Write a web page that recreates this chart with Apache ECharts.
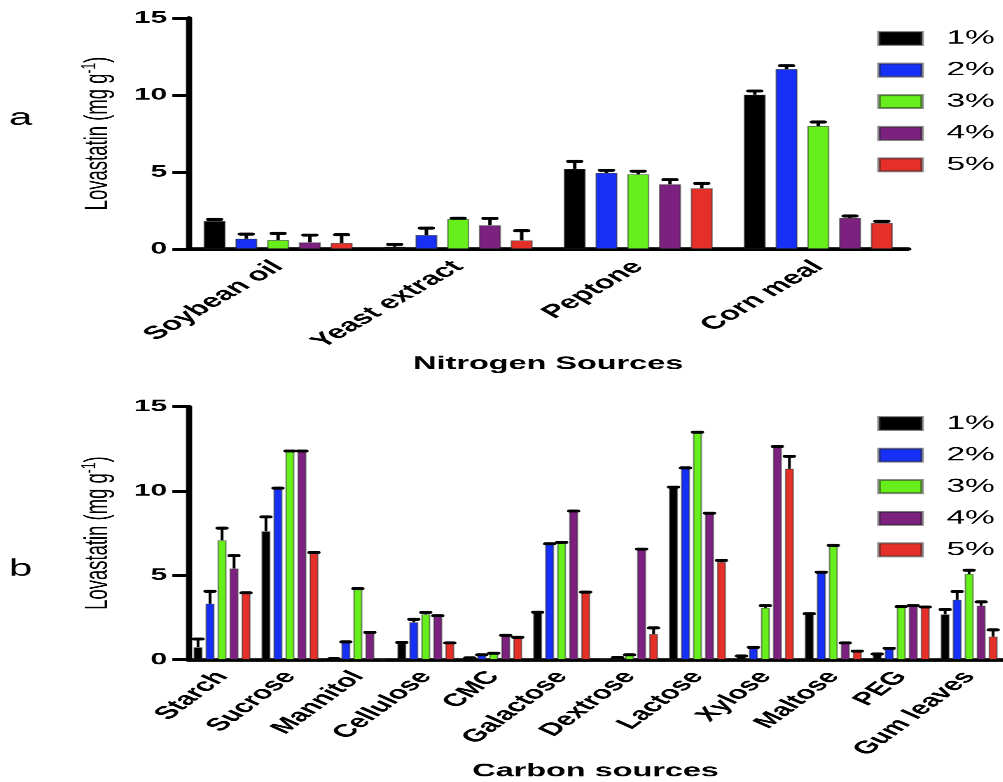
<!DOCTYPE html>
<html>
<head>
<meta charset="utf-8">
<script src="https://cdn.jsdelivr.net/npm/echarts@6/dist/echarts.min.js"></script>
<style>
  html, body { margin: 0; padding: 0; background: #fff; overflow: hidden; }
  #wrap { position: absolute; left: 0; top: 0; width: 573.14px; height: 782px; transform: scaleX(1.75); transform-origin: 0 0; }
</style>
</head>
<body>
<div id="wrap"></div>
<script>
// ---------------- DATA ----------------
const seriesNames = ['1%', '2%', '3%', '4%', '5%'];

const nitrogenSources = ['Soybean oil', 'Yeast extract', 'Peptone', 'Corn meal'];
const nitrogen1 = [1.82, 0.15, 5.21, 10.02];
const nitrogen2 = [0.67, 0.91, 4.94, 11.69];
const nitrogen3 = [0.58, 1.95, 4.85, 7.99];
const nitrogen4 = [0.43, 1.54, 4.20, 2.01];
const nitrogen5 = [0.39, 0.56, 3.94, 1.69];
const nitrogenErr1 = [0.10, 0.15, 0.48, 0.24];
const nitrogenErr2 = [0.30, 0.45, 0.17, 0.21];
const nitrogenErr3 = [0.43, 0.05, 0.20, 0.26];
const nitrogenErr4 = [0.47, 0.45, 0.30, 0.13];
const nitrogenErr5 = [0.54, 0.63, 0.32, 0.11];

const carbonSources = ['Starch', 'Sucrose', 'Mannitol', 'Cellulose', 'CMC', 'Galactose', 'Dextrose', 'Lactose', 'Xylose', 'Maltose', 'PEG', 'Gum leaves'];
const carbon1 = [0.73, 7.61, 0.05, 1.01, 0.10, 2.81, 0.00, 10.23, 0.21, 2.72, 0.33, 2.68];
const carbon2 = [3.32, 10.17, 1.05, 2.21, 0.28, 6.87, 0.12, 11.37, 0.72, 5.18, 0.67, 3.55];
const carbon3 = [7.07, 12.37, 4.21, 2.68, 0.38, 6.95, 0.28, 13.49, 3.07, 6.77, 3.14, 5.08];
const carbon4 = [5.40, 12.37, 1.61, 2.60, 1.44, 8.81, 6.55, 8.68, 12.64, 0.99, 3.20, 3.20];
const carbon5 = [3.96, 6.35, 0.00, 0.99, 1.32, 4.00, 1.51, 5.78, 11.32, 0.50, 3.12, 1.36];
const carbonErr1 = [0.49, 0.85, 0, 0, 0, 0, 0, 0, 0, 0, 0, 0.29];
const carbonErr2 = [0.73, 0, 0, 0.18, 0, 0, 0, 0, 0, 0, 0, 0.49];
const carbonErr3 = [0.73, 0, 0, 0.12, 0, 0, 0, 0, 0.13, 0, 0, 0.22];
const carbonErr4 = [0.77, 0, 0, 0, 0, 0, 0, 0, 0, 0, 0, 0.22];
const carbonErr5 = [0, 0, 0, 0, 0, 0, 0.37, 0.10, 0.74, 0, 0, 0.40];

const yMin = 0, yMax = 15, yStep = 5;

// ---------------- STYLE / LAYOUT ----------------
const S = 1.75;                       // horizontal stretch of the reference picture
const px = x => x / S;                // reference x (px) -> unscaled chart x
const colors = ['#000000', '#1630f8', '#66ef1a', '#7d2181', '#e5302a'];
const FONT = 'Liberation Sans, Arial, Helvetica, sans-serif';

const nitrogenVals = [nitrogen1, nitrogen2, nitrogen3, nitrogen4, nitrogen5];
const nitrogenErrs = [nitrogenErr1, nitrogenErr2, nitrogenErr3, nitrogenErr4, nitrogenErr5];
const carbonVals = [carbon1, carbon2, carbon3, carbon4, carbon5];
const carbonErrs = [carbonErr1, carbonErr2, carbonErr3, carbonErr4, carbonErr5];

const chart = echarts.init(document.getElementById('wrap'), null, { devicePixelRatio: 2.5, renderer: 'canvas' });

function errRender(k, pitch, capW, capH, stemW) {
  return function (params, api) {
    const v = api.value(1), e = api.value(2);
    if (v <= 0) return { type: 'group', children: [] };
    const base = api.coord([api.value(0), v]);
    const top = api.coord([api.value(0), v + e]);
    const x = base[0] + (k - 2) * pitch;
    const children = [];
    if (e > 0) {
      children.push({ type: 'line', shape: { x1: x, y1: base[1], x2: x, y2: top[1] }, style: { stroke: '#000', lineWidth: stemW } });
    }
    children.push({ type: 'line', shape: { x1: x - capW / 2, y1: top[1], x2: x + capW / 2, y2: top[1] }, style: { stroke: '#000', lineWidth: capH, lineCap: 'round' } });
    return { type: 'group', children: children };
  };
}

function xAxisCfg(gridIndex, cats, name, nameGap, labelSize, rot, margin) {
  return {
    type: 'category', gridIndex: gridIndex, data: cats,
    name: name, nameLocation: 'middle', nameGap: nameGap,
    nameTextStyle: { fontFamily: FONT, fontWeight: 'bold', fontSize: 18.5, color: '#000' },
    axisLine: { lineStyle: { color: '#000', width: 3.5 } },
    axisTick: { alignWithLabel: true, length: 8, lineStyle: { color: '#000', width: 3 } },
    axisLabel: { interval: 0, rotate: rot, margin: margin, fontFamily: FONT, fontWeight: 'bold', fontSize: labelSize, color: '#000' },
    splitLine: { show: false }
  };
}

function yAxisCfg(gridIndex) {
  return {
    type: 'value', gridIndex: gridIndex, min: yMin, max: yMax, interval: yStep,
    name: '{n|Lovastatin (mg g}{s|-1}{n|)}', nameLocation: 'middle', nameGap: 13,
    nameTextStyle: {
      rich: {
        n: { fontFamily: FONT, fontSize: 18.5, color: '#000', lineHeight: 22 },
        s: { fontFamily: FONT, fontSize: 12, color: '#000', lineHeight: 22, verticalAlign: 'top', padding: [0, 0, 6, 0] }
      }
    },
    axisLine: { show: true, lineStyle: { color: '#000', width: 3.5 } },
    axisTick: { show: true, length: 9, lineStyle: { color: '#000', width: 3 } },
    axisLabel: { margin: 12, fontFamily: FONT, fontWeight: 'bold', fontSize: 17, color: '#000' },
    splitLine: { show: false }
  };
}

function buildSeries(vals, errs, axisIdx, barW, pitch, capW, capH, stemW) {
  const out = [];
  const gap = ((pitch - barW) / barW * 100).toFixed(2) + '%';
  vals.forEach((arr, k) => {
    out.push({
      name: seriesNames[k], type: 'bar', xAxisIndex: axisIdx, yAxisIndex: axisIdx,
      data: arr, barWidth: barW, barGap: gap,
      itemStyle: { color: colors[k], borderColor: 'rgba(40,40,40,0.55)', borderWidth: 0.8 },
      emphasis: { disabled: true }
    });
  });
  vals.forEach((arr, k) => {
    out.push({
      name: 'err' + axisIdx + '_' + k, type: 'custom', xAxisIndex: axisIdx, yAxisIndex: axisIdx,
      data: arr.map((v, i) => [i, v, errs[k][i]]),
      encode: { x: 0, y: 1 }, z: 5, silent: true,
      renderItem: errRender(k, pitch, capW, capH, stemW)
    });
  });
  return out;
}

function legendCfg(top) {
  return {
    data: seriesNames, orient: 'vertical', left: px(877), top: top, padding: 0,
    itemWidth: px(43), itemHeight: 13, itemGap: 12.6, icon: 'rect',
    textStyle: { fontFamily: FONT, fontSize: 19, color: '#000', padding: [0, 0, 0, 9] },
    selectedMode: false
  };
}

const option = {
  animation: false,
  backgroundColor: '#fff',
  textStyle: { fontFamily: FONT },
  grid: [
    { left: px(188), width: px(720), top: 18, height: 231, containLabel: false },
    { left: px(188), width: px(819), top: 406.7, height: 257.6, containLabel: false }
  ],
  legend: [legendCfg(29), legendCfg(414)],
  xAxis: [
    xAxisCfg(0, nitrogenSources, 'Nitrogen Sources', 104, 18.5, 45, 15),
    xAxisCfg(1, carbonSources, 'Carbon sources', 96, 18, 52, 14)
  ],
  yAxis: [yAxisCfg(0), yAxisCfg(1)],
  graphic: [
    { type: 'text', left: px(9), top: 106, style: { text: 'a', fontFamily: FONT, fontSize: 24, fill: '#000' } },
    { type: 'text', left: px(9), top: 557, style: { text: 'b', fontFamily: FONT, fontSize: 24, fill: '#000' } }
  ],
  series: [].concat(
    buildSeries(nitrogenVals, nitrogenErrs, 0, px(22), px(31.75), px(12), 3, 2),
    buildSeries(carbonVals, carbonErrs, 1, px(9), px(12), px(8), 3, 1.6)
  )
};
chart.setOption(option);
</script>
</body>
</html>
